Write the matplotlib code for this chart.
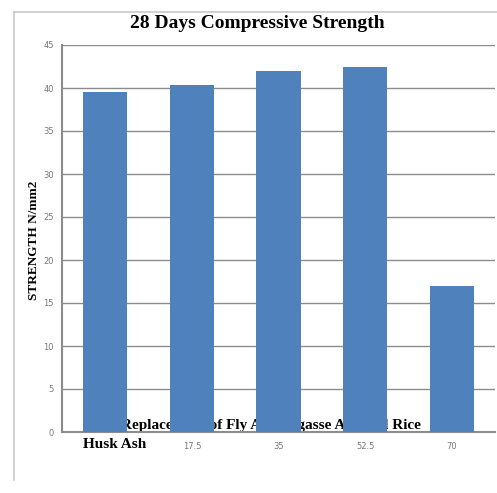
import matplotlib
matplotlib.use("Agg")
import matplotlib.pyplot as plt
from matplotlib.lines import Line2D

categories = ["0", "17.5", "35", "52.5", "70"]
strength = [39.5, 40.3, 42.0, 42.4, 17.0]
yticks = [0, 5, 10, 15, 20, 25, 30, 35, 40, 45]

W, H = 497, 493
fig = plt.figure(figsize=(W/100, H/100), dpi=100)
fig.patch.set_facecolor("white")

# outer frame lines (left and top)
fig.add_artist(Line2D([14/W, 14/W], [1-12/H, 1-480/H], color="#c8c8c8", lw=1.2))
fig.add_artist(Line2D([14/W, 1.0], [1-12/H, 1-12/H], color="#c8c8c8", lw=1.2))

ax = fig.add_axes([62/W, 1-432/H, (495-62)/W, (432-45)/H])
ax.set_facecolor("none")
x = list(range(len(categories)))
ax.bar(x, strength, width=0.51, color="#4F81BD", zorder=3)
ax.set_xlim(-0.5, 4.5)
ax.set_ylim(0, 45)
ax.set_yticks(yticks)
ax.set_yticklabels([str(v) for v in yticks], fontsize=6, color="#777777")
ax.set_xticks(x)
ax.set_xticklabels(categories, fontsize=6, color="#777777")
ax.get_xticklabels()[0].set_visible(False)
ax.tick_params(axis="y", length=0, pad=6)
ax.tick_params(axis="x", length=0, pad=7)
ax.grid(axis="y", color="#8c8c8c", lw=1.0, zorder=0)
for s in ["top", "right"]:
    ax.spines[s].set_visible(False)
for s in ["left", "bottom"]:
    ax.spines[s].set_color("#8c8c8c")
    ax.spines[s].set_linewidth(1.5)

fig.text(257/W, 1-24/H, "28 Days Compressive Strength", ha="center", va="center",
         fontsize=14, fontweight="bold", family="Liberation Serif")
fig.text(34/W, 1-240/H, "STRENGTH N/mm2", ha="center", va="center", rotation=90,
         fontsize=9.5, fontweight="bold", family="Liberation Serif")
fig.text(121/W, 1-425/H, "Replacement of Fly Ash Bagasse Ash and Rice",
         ha="left", va="center", fontsize=11, fontweight="bold",
         family="Liberation Serif", zorder=-1)
fig.text(83/W, 1-444/H, "Husk Ash", ha="left", va="center", fontsize=11,
         fontweight="bold", family="Liberation Serif")

fig.savefig("out.png", dpi=100)
